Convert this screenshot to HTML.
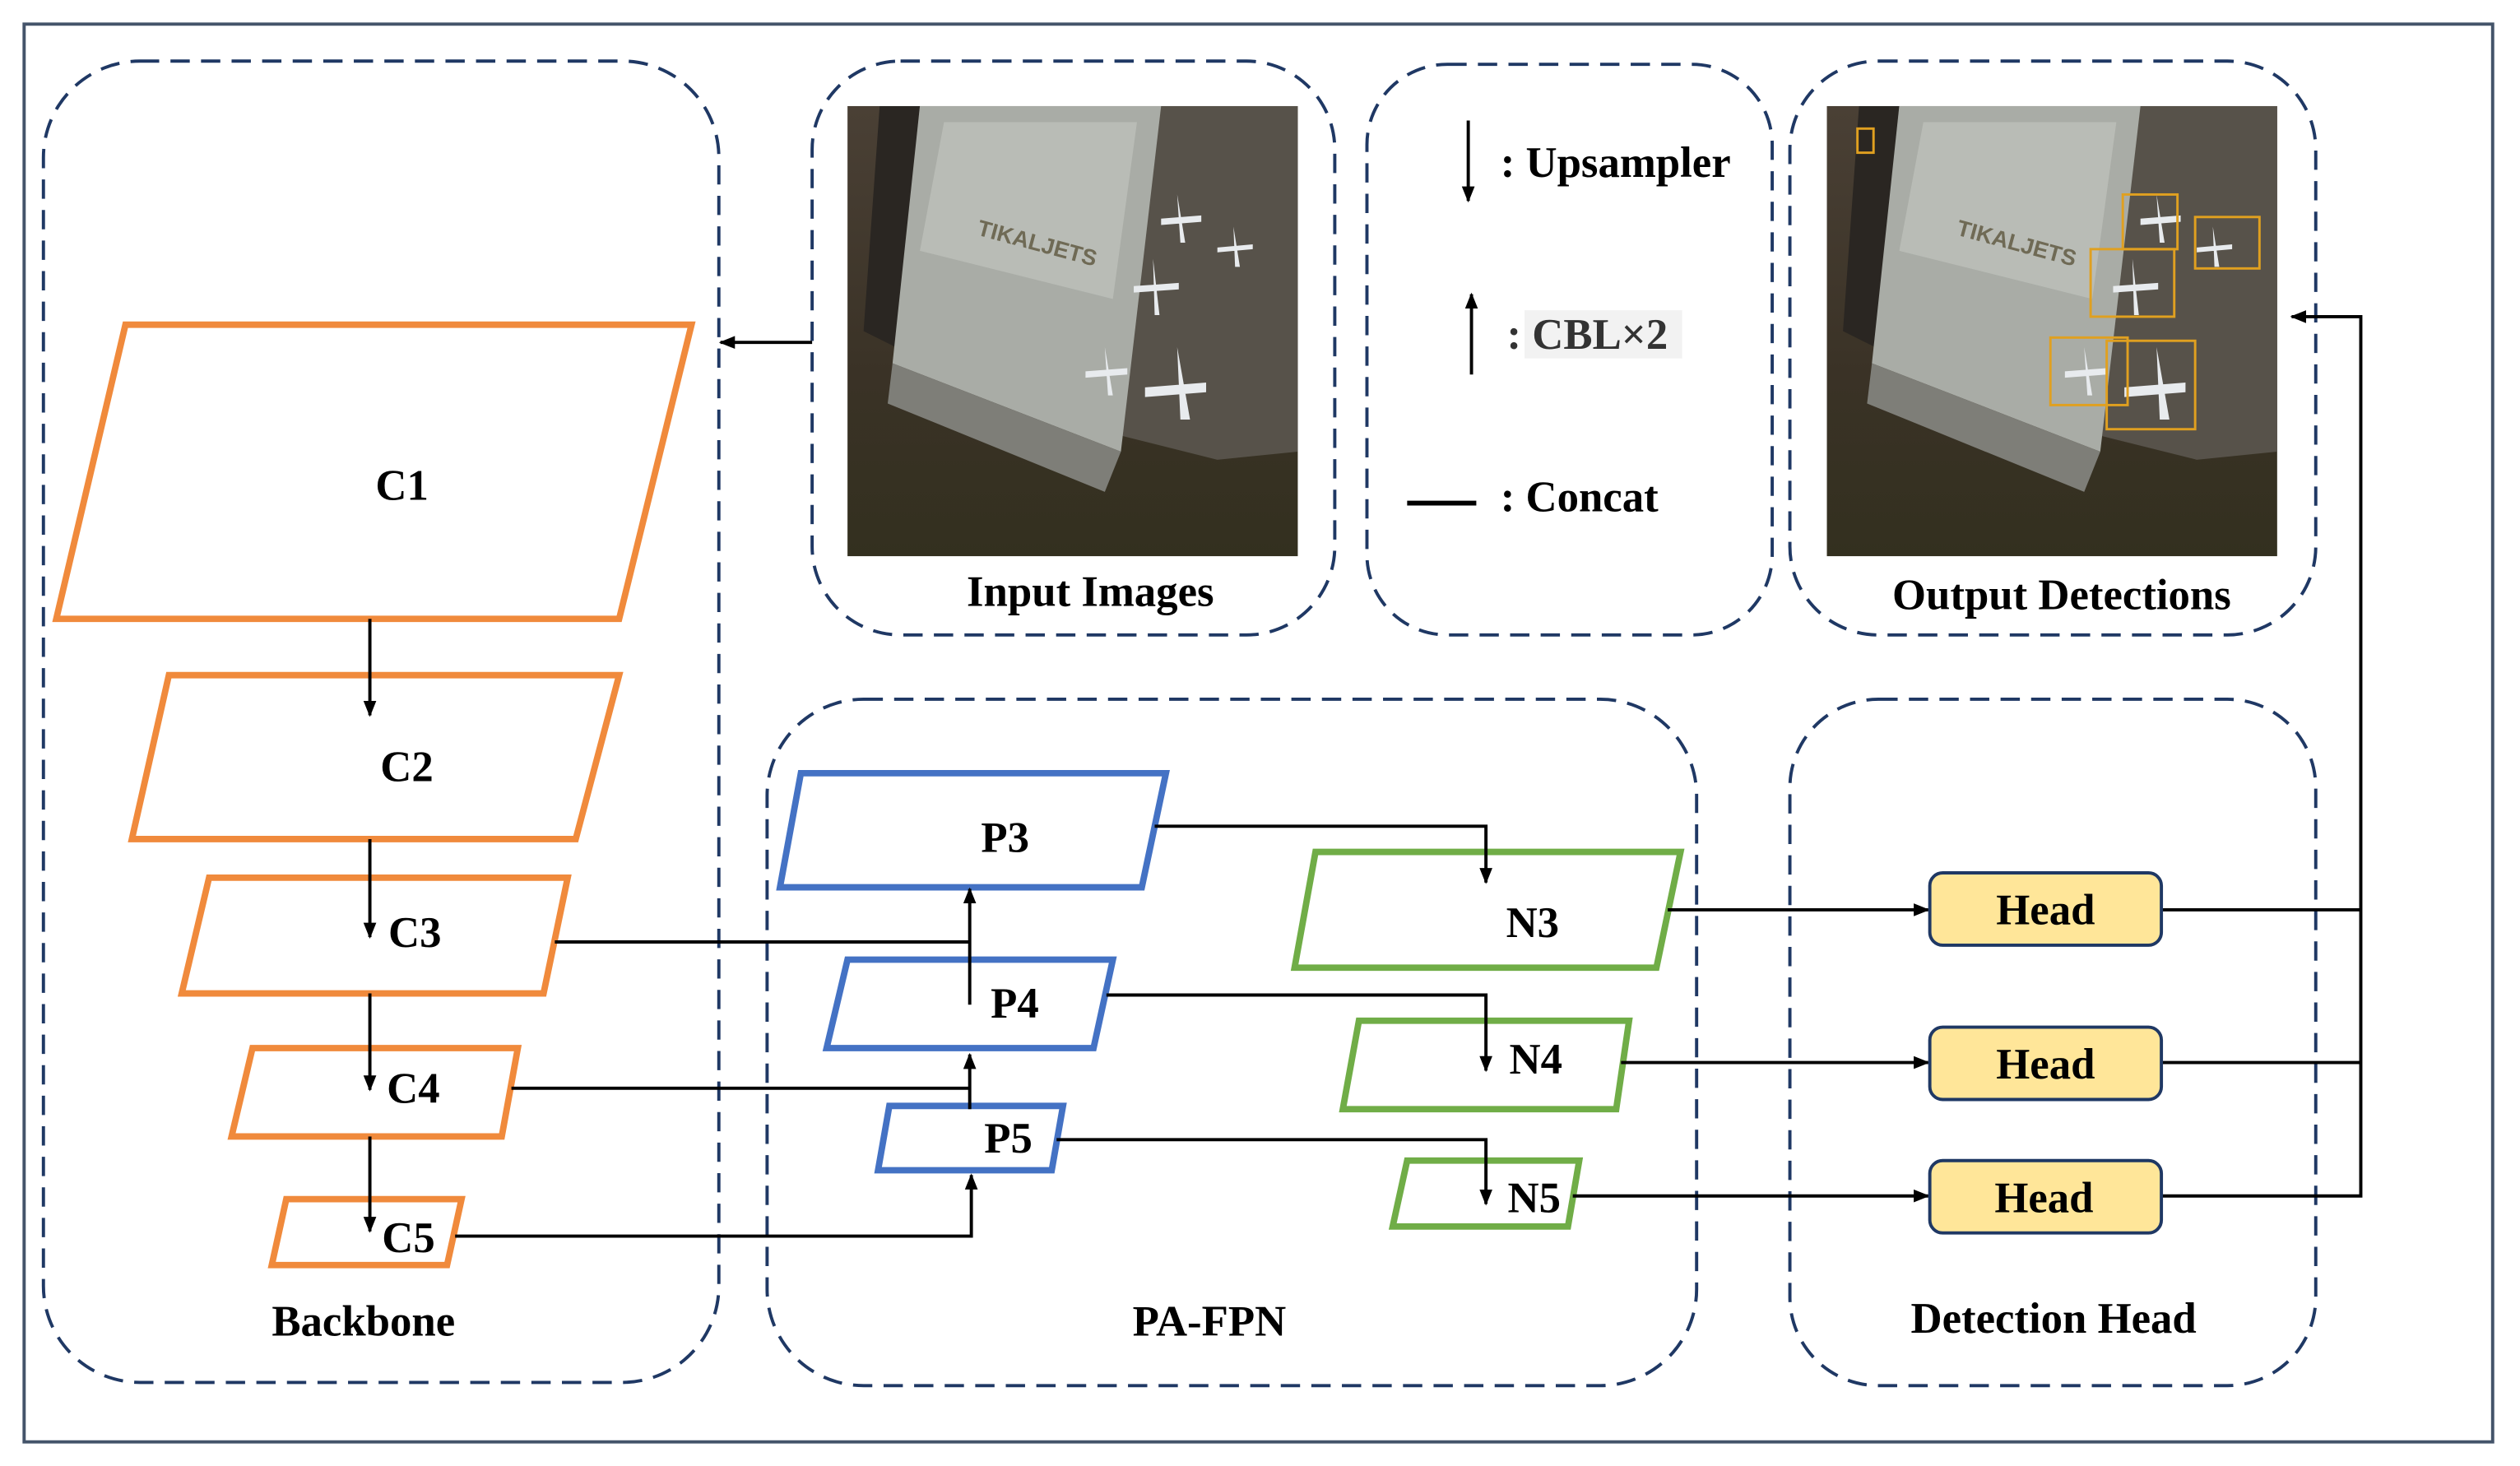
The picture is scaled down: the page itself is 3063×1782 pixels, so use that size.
<!DOCTYPE html>
<html><head><meta charset="utf-8"><style>
html,body{margin:0;padding:0;background:#fff;}
svg{display:block;}
</style></head><body>
<svg width="3063" height="1782" viewBox="0 0 1567 912" preserveAspectRatio="none" xmlns="http://www.w3.org/2000/svg" font-family="'Liberation Serif', 'DejaVu Serif', serif" font-weight="bold">
<defs>
<marker id="ar" markerWidth="10" markerHeight="10" refX="9" refY="5" orient="auto" markerUnits="userSpaceOnUse">
<path d="M0,1 L10,5 L0,9 z" fill="#000"/></marker>
<linearGradient id="gr" x1="0" y1="0" x2="0" y2="1">
<stop offset="0" stop-color="#4a4035"/><stop offset="0.6" stop-color="#3a3226"/><stop offset="1" stop-color="#33301f"/></linearGradient>
<g id="img">
<rect x="0" y="0" width="280" height="280" fill="url(#gr)"/>
<polygon points="150,0 280,0 280,215 230,220 150,200 120,170" fill="#57524a"/>
<polygon points="20,0 45,0 30,150 10,140" fill="#2a2622"/>
<polygon points="45,0 195,0 170,215 28,160" fill="#a9aca6"/>
<polygon points="60,10 180,10 165,120 45,90" fill="#b9bcb6"/>
<polygon points="28,160 170,215 160,240 25,185" fill="#7e7e78"/>
<text x="80" y="80" font-size="14" fill="#6f6a55" font-family="'Liberation Sans',sans-serif" font-weight="bold" transform="rotate(15 80 80)">TIKALJETS</text>
<g fill="#e8ebee">
<path d="M205,55 l5,30 l-3,0z M195,70 l25,-2 l0,4 l-25,2z"/>
<path d="M240,75 l4,25 l-3,0z M230,88 l22,-2 l0,3 l-22,2z"/>
<path d="M190,95 l4,35 l-3,0z M178,112 l28,-2 l0,4 l-28,2z"/>
<path d="M160,150 l5,30 l-3,0z M148,165 l26,-2 l0,4 l-26,2z"/>
<path d="M205,150 l8,45 l-6,0z M185,175 l38,-3 l0,6 l-38,3z"/>
</g>
</g>
</defs>
<rect x="15" y="15" width="1535" height="882" fill="none" stroke="#44546a" stroke-width="2"/>
<g fill="none" stroke="#1f3864" stroke-width="2" stroke-dasharray="12,7">
<rect x="27" y="38" width="420" height="822" rx="60"/>
<rect x="505" y="38" width="325" height="357" rx="55"/>
<rect x="850" y="40" width="252" height="355" rx="50"/>
<rect x="1113" y="38" width="327" height="357" rx="55"/>
<rect x="477" y="435" width="578" height="427" rx="60"/>
<rect x="1113" y="435" width="327" height="427" rx="55"/>
</g>
<use href="#img" x="527" y="66"/>
<use href="#img" x="1136" y="66"/>
<g fill="none" stroke="#e0a020" stroke-width="1.5">
<rect x="1155" y="80" width="10" height="15"/>
<rect x="1320" y="121" width="34" height="34"/>
<rect x="1365" y="135" width="40" height="32"/>
<rect x="1300" y="155" width="52" height="42"/>
<rect x="1275" y="210" width="48" height="42"/>
<rect x="1310" y="212" width="55" height="55"/>
</g>
<g fill="none" stroke="#f08a3c" stroke-width="4">
<polygon points="78,202 430,202 385,385 35,385"/>
<polygon points="105,420 385,420 358,522 82,522"/>
<polygon points="130,546 353,546 338,618 113,618"/>
<polygon points="157,652 322,652 312,707 144,707"/>
<polygon points="178,746 287,746 278,787 169,787"/>
</g>
<g fill="none" stroke="#4472c4" stroke-width="4">
<polygon points="498,481 725,481 710,552 485,552"/>
<polygon points="527,597 692,597 680,652 514,652"/>
<polygon points="553,688 661,688 654,728 546,728"/>
</g>
<g fill="none" stroke="#70ad47" stroke-width="4">
<polygon points="818,530 1045,530 1030,602 805,602"/>
<polygon points="845,635 1013,635 1005,690 835,690"/>
<polygon points="875,722 982,722 975,763 866,763"/>
</g>
<g fill="none" stroke="#000" stroke-width="2">
<line x1="230" y1="385" x2="230" y2="445" marker-end="url(#ar)"/>
<line x1="230" y1="522" x2="230" y2="583" marker-end="url(#ar)"/>
<line x1="230" y1="618" x2="230" y2="678" marker-end="url(#ar)"/>
<line x1="230" y1="707" x2="230" y2="766" marker-end="url(#ar)"/>
<polyline points="345,586 603,586"/>
<line x1="603" y1="625" x2="603" y2="553" marker-end="url(#ar)"/>
<polyline points="318,677 603,677"/>
<line x1="603" y1="690" x2="603" y2="656" marker-end="url(#ar)"/>
<polyline points="283,769 604,769 604,731" marker-end="url(#ar)"/>
<polyline points="718,514 924,514 924,549" marker-end="url(#ar)"/>
<polyline points="688,619 924,619 924,666" marker-end="url(#ar)"/>
<polyline points="657,709 924,709 924,749" marker-end="url(#ar)"/>
<line x1="1037" y1="566" x2="1199" y2="566" marker-end="url(#ar)"/>
<line x1="1008" y1="661" x2="1199" y2="661" marker-end="url(#ar)"/>
<line x1="978" y1="744" x2="1199" y2="744" marker-end="url(#ar)"/>
<polyline points="1344,566 1468,566"/>
<polyline points="1344,661 1468,661"/>
<polyline points="1344,744 1468,744 1468,197 1425,197" marker-end="url(#ar)"/>
<line x1="505" y1="213" x2="448" y2="213" marker-end="url(#ar)"/>
<line x1="913" y1="75" x2="913" y2="125" marker-end="url(#ar)"/>
<line x1="915" y1="233" x2="915" y2="183" marker-end="url(#ar)"/>
<line x1="875" y1="313" x2="918" y2="313" stroke-width="3"/>
</g>
<g fill="#ffe699" stroke="#1f3864" stroke-width="2">
<rect x="1200" y="543" width="144" height="45" rx="8"/>
<rect x="1200" y="639" width="144" height="45" rx="8"/>
<rect x="1200" y="722" width="144" height="45" rx="8"/>
</g>
<rect x="948" y="193" width="98" height="30" fill="#f2f2f2"/>
<g font-size="27" text-anchor="middle" fill="#000">
<text x="250" y="311">C1</text>
<text x="253" y="486">C2</text>
<text x="258" y="589">C3</text>
<text x="257" y="686">C4</text>
<text x="254" y="779">C5</text>
<text x="625" y="530">P3</text>
<text x="631" y="633">P4</text>
<text x="627" y="717">P5</text>
<text x="953" y="583">N3</text>
<text x="955" y="668">N4</text>
<text x="954" y="754">N5</text>
<text x="1272" y="575">Head</text>
<text x="1272" y="671">Head</text>
<text x="1271" y="754">Head</text>
<text x="678" y="377">Input Images</text>
<text x="1282" y="379">Output Detections</text>
<text x="226" y="831">Backbone</text>
<text x="752" y="831">PA-FPN</text>
<text x="1277" y="829">Detection Head</text>
</g>
<g font-size="27" fill="#000">
<text x="933" y="110">: Upsampler</text>
<text x="937" y="217" fill="#333">: CBL×2</text>
<text x="933" y="318">: Concat</text>
</g>
</svg>
</body></html>
